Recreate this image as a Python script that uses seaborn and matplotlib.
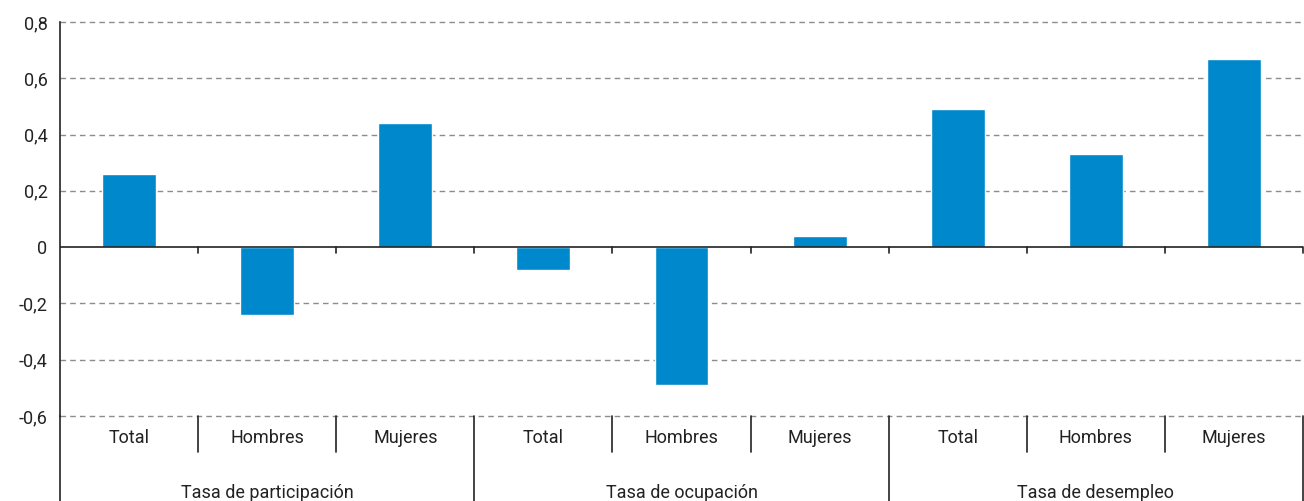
import pandas as pd
import matplotlib.pyplot as plt
import seaborn as sns

grupos = ["Tasa de participación", "Tasa de ocupación", "Tasa de desempleo"]
sexos = ["Total", "Hombres", "Mujeres"]
valores = [0.26, -0.24, 0.44,
           -0.08, -0.49, 0.04,
           0.49, 0.33, 0.67]
yticks = [-0.6, -0.4, -0.2, 0, 0.2, 0.4, 0.6, 0.8]
ytick_labels = ["-0,6", "-0,4", "-0,2", "0", "0,2", "0,4", "0,6", "0,8"]

df = pd.DataFrame({
    "grupo": [g for g in grupos for _ in sexos],
    "sexo": sexos * len(grupos),
    "valor": valores,
})
df["clave"] = df["grupo"] + " | " + df["sexo"]

sns.set_style("white")
plt.rcParams["font.family"] = ["Roboto", "DejaVu Sans"]

fig = plt.figure(figsize=(13.04, 5.01), dpi=100)
ax = fig.add_axes([60 / 1304, 1 - 416 / 501, 1243 / 1304, 394 / 501])

sns.barplot(data=df, x="clave", y="valor", color="#0088CC", width=0.39,
            saturation=1, ax=ax, zorder=3)

n = len(df)
ax.set_xlim(-0.5, n - 0.5)
ax.set_ylim(-0.6, 0.8)
ax.set_yticks(yticks)
ax.set_yticklabels(ytick_labels, fontsize=13, color="#222222")
ax.set_xticks([])
ax.set_xlabel("")
ax.set_ylabel("")
ax.tick_params(axis="y", length=5, width=1, color="#222222", direction="out", pad=4)
for y in yticks:
    if y != 0:
        ax.axhline(y, color="#8c8c8c", lw=1, ls=(0, (4, 3)), zorder=1, clip_on=False)
ax.axhline(0, color="#222222", lw=1.2, zorder=4)

for s in ["top", "right", "bottom"]:
    ax.spines[s].set_visible(False)
ax.spines["left"].set_color("#222222")
ax.spines["left"].set_linewidth(1.2)

trans = ax.get_xaxis_transform()
sub_h = 36 / 394   # height of sub-category band (axes fraction)
bottom = -(501 - 416) / 394

# extend left spine down to the bottom of the figure
ax.plot([-0.5, -0.5], [0, bottom], transform=trans, color="#222222", lw=1.2, clip_on=False)

# boundaries
y0 = 0.6 / 1.4
for i in range(1, n + 1):
    x = i - 0.5
    if i % 3 == 0:
        ax.plot([x, x], [0, bottom], transform=trans, color="#222222", lw=1.2, clip_on=False)
    else:
        ax.plot([x, x], [0, -sub_h], transform=trans, color="#222222", lw=1.2, clip_on=False)
    # small tick under zero line
    ax.plot([x, x], [y0, y0 - 6 / 394], transform=trans, color="#222222", lw=1.2, clip_on=False)

for i, s in enumerate(df["sexo"]):
    ax.text(i, -22 / 394, s, transform=trans, ha="center", va="center",
            fontsize=13, color="#222222")
for j, g in enumerate(grupos):
    ax.text(3 * j + 1, -77 / 394, g, transform=trans, ha="center", va="center",
            fontsize=13, color="#222222")

fig.savefig("out.png", dpi=100)
plt.close(fig)
